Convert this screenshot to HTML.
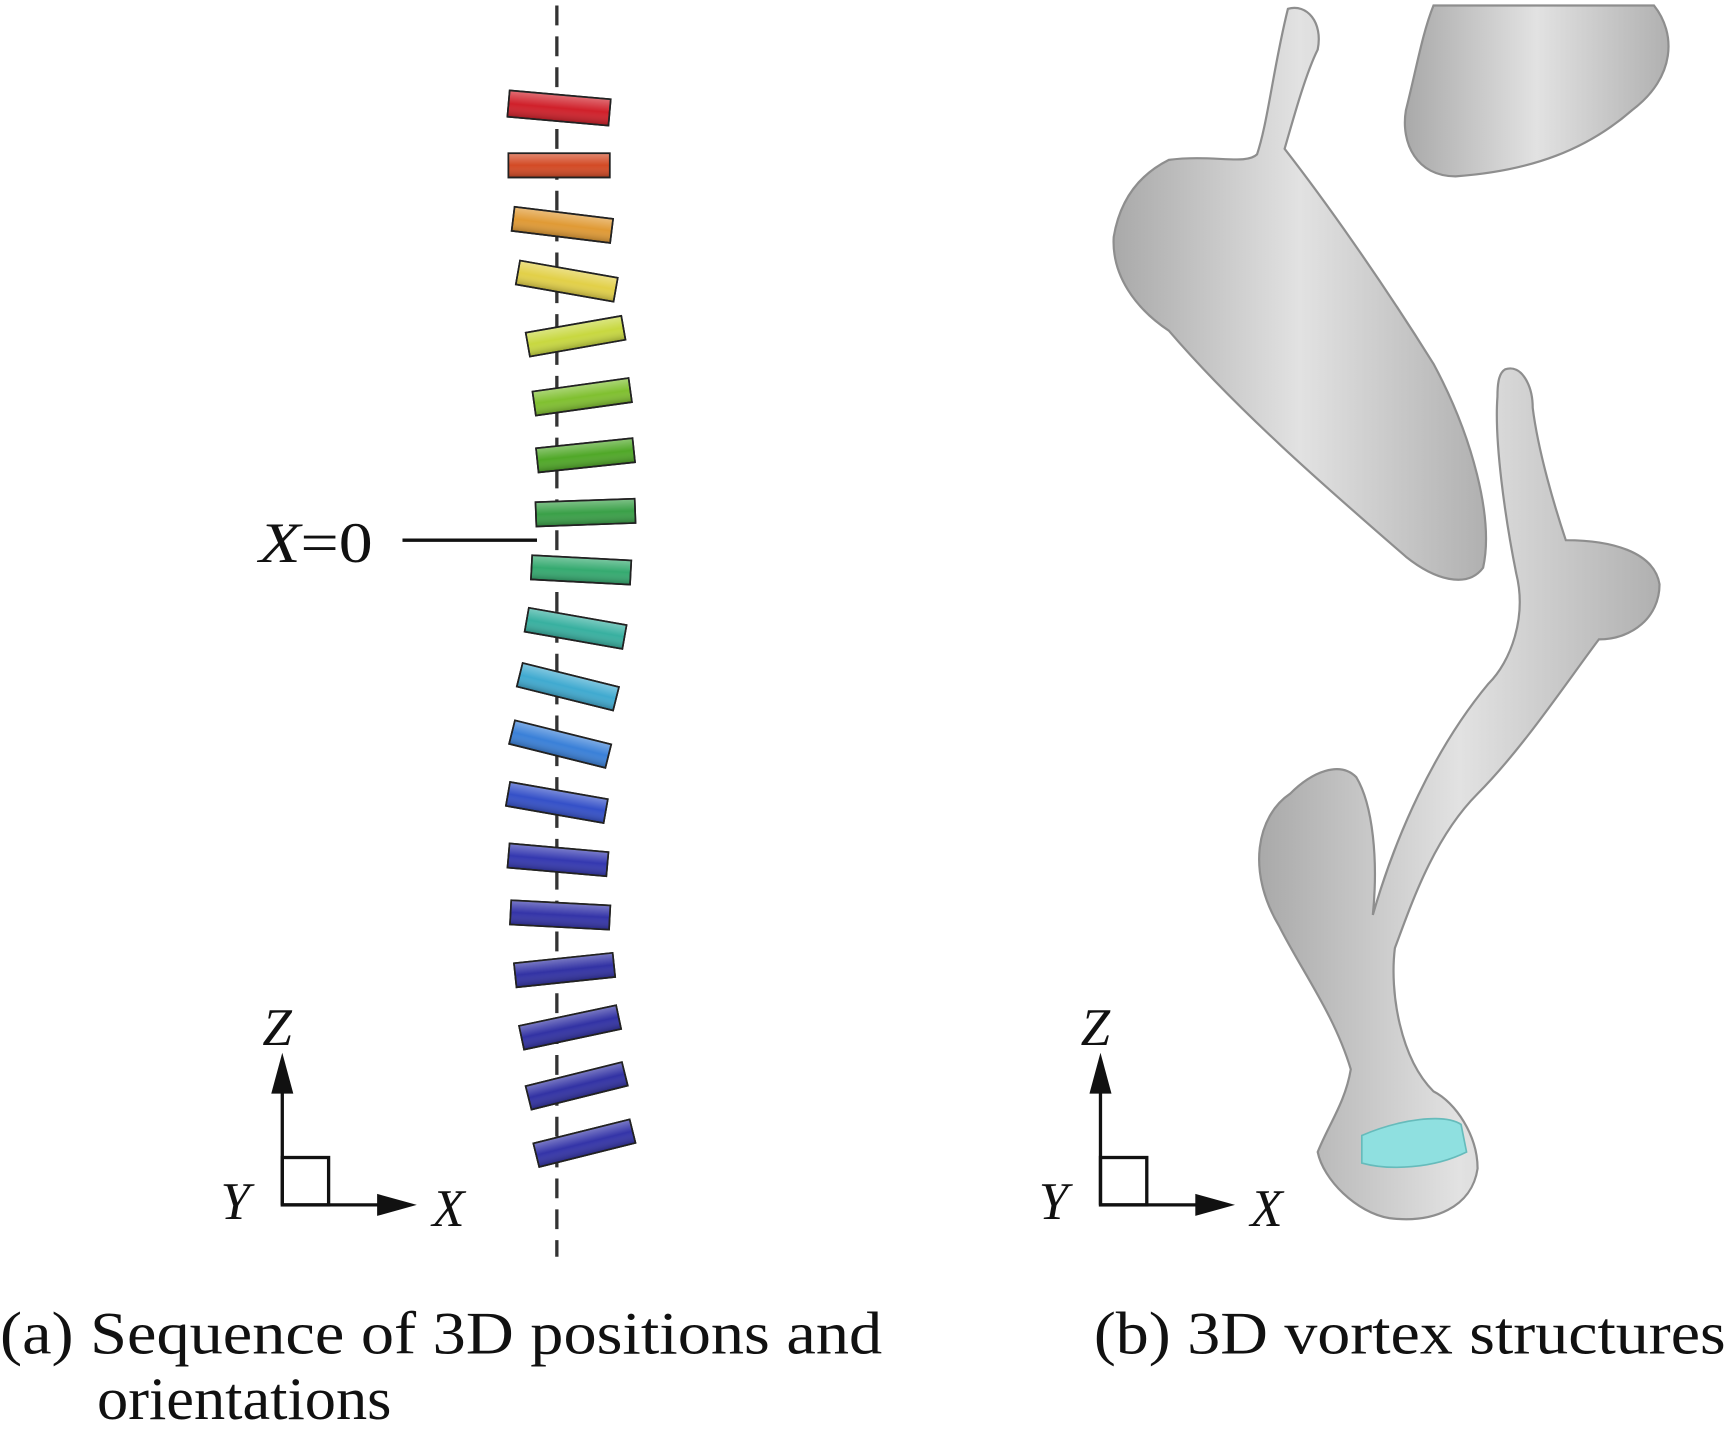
<!DOCTYPE html>
<html><head><meta charset="utf-8"><style>
html,body{margin:0;padding:0;background:#fff}
svg{display:block}
text{font-family:"Liberation Serif",serif;fill:#111}
</style></head><body>
<svg width="1729" height="1432" viewBox="0 0 1568 1299" preserveAspectRatio="none" xmlns="http://www.w3.org/2000/svg">
<defs>
<linearGradient id="sh" x1="0" y1="0" x2="0" y2="1">
<stop offset="0" stop-color="#fff" stop-opacity="0.35"/><stop offset="0.5" stop-color="#fff" stop-opacity="0"/><stop offset="1" stop-color="#000" stop-opacity="0.25"/>
</linearGradient>
<linearGradient id="gv" x1="0" y1="0" x2="1" y2="0">
<stop offset="0" stop-color="#a9a9a9"/><stop offset="0.5" stop-color="#e2e2e2"/><stop offset="1" stop-color="#b0b0b0"/>
</linearGradient>
</defs>
<line x1="505" y1="5" x2="505" y2="1140" stroke="#333" stroke-width="3" stroke-dasharray="18,10"/>
<g stroke="#222" stroke-width="1.5">
<g transform="translate(507,98) rotate(5)"><rect x="-46" y="-12" width="92" height="24" fill="#d0202a"/><rect x="-46" y="-12" width="92" height="24" fill="url(#sh)"/></g>
<g transform="translate(507,150) rotate(0)"><rect x="-46" y="-11" width="92" height="22" fill="#d34a25"/><rect x="-46" y="-11" width="92" height="22" fill="url(#sh)"/></g>
<g transform="translate(510,204) rotate(7)"><rect x="-45" y="-11" width="90" height="22" fill="#e09a35"/><rect x="-45" y="-11" width="90" height="22" fill="url(#sh)"/></g>
<g transform="translate(514,255) rotate(10)"><rect x="-45" y="-11" width="90" height="22" fill="#e2d048"/><rect x="-45" y="-11" width="90" height="22" fill="url(#sh)"/></g>
<g transform="translate(522,305) rotate(-10)"><rect x="-44" y="-11" width="88" height="22" fill="#c8d840"/><rect x="-44" y="-11" width="88" height="22" fill="url(#sh)"/></g>
<g transform="translate(528,360) rotate(-8)"><rect x="-44" y="-11" width="88" height="22" fill="#80c030"/><rect x="-44" y="-11" width="88" height="22" fill="url(#sh)"/></g>
<g transform="translate(531,413) rotate(-6)"><rect x="-44" y="-11" width="88" height="22" fill="#50a828"/><rect x="-44" y="-11" width="88" height="22" fill="url(#sh)"/></g>
<g transform="translate(531,465) rotate(-2)"><rect x="-45" y="-11" width="90" height="22" fill="#3aa048"/><rect x="-45" y="-11" width="90" height="22" fill="url(#sh)"/></g>
<g transform="translate(527,517) rotate(3)"><rect x="-45" y="-11" width="90" height="22" fill="#35aa70"/><rect x="-45" y="-11" width="90" height="22" fill="url(#sh)"/></g>
<g transform="translate(522,570) rotate(10)"><rect x="-45" y="-11" width="90" height="22" fill="#38b0a0"/><rect x="-45" y="-11" width="90" height="22" fill="url(#sh)"/></g>
<g transform="translate(515,623) rotate(14)"><rect x="-45" y="-11" width="90" height="22" fill="#40aad0"/><rect x="-45" y="-11" width="90" height="22" fill="url(#sh)"/></g>
<g transform="translate(508,675) rotate(14)"><rect x="-45" y="-11" width="90" height="22" fill="#3a80d8"/><rect x="-45" y="-11" width="90" height="22" fill="url(#sh)"/></g>
<g transform="translate(505,728) rotate(10)"><rect x="-45" y="-11" width="90" height="22" fill="#3450c8"/><rect x="-45" y="-11" width="90" height="22" fill="url(#sh)"/></g>
<g transform="translate(506,780) rotate(5)"><rect x="-45" y="-11" width="90" height="22" fill="#3438b0"/><rect x="-45" y="-11" width="90" height="22" fill="url(#sh)"/></g>
<g transform="translate(508,830) rotate(3)"><rect x="-45" y="-11" width="90" height="22" fill="#3434a8"/><rect x="-45" y="-11" width="90" height="22" fill="url(#sh)"/></g>
<g transform="translate(512,880) rotate(-6)"><rect x="-45" y="-11" width="90" height="22" fill="#3232a4"/><rect x="-45" y="-11" width="90" height="22" fill="url(#sh)"/></g>
<g transform="translate(517,932) rotate(-12)"><rect x="-45" y="-11" width="90" height="22" fill="#3232a4"/><rect x="-45" y="-11" width="90" height="22" fill="url(#sh)"/></g>
<g transform="translate(523,985) rotate(-14)"><rect x="-45" y="-11" width="90" height="22" fill="#3232a4"/><rect x="-45" y="-11" width="90" height="22" fill="url(#sh)"/></g>
<g transform="translate(530,1037) rotate(-14)"><rect x="-45" y="-11" width="90" height="22" fill="#3434a8"/><rect x="-45" y="-11" width="90" height="22" fill="url(#sh)"/></g>
</g>
<text x="235" y="510" font-size="52" textLength="103" lengthAdjust="spacingAndGlyphs"><tspan font-style="italic">X</tspan>=0</text>
<line x1="365" y1="490" x2="487" y2="490" stroke="#111" stroke-width="3"/>
<g stroke="#111" stroke-width="3" fill="none">
<line x1="256" y1="1093" x2="256" y2="975"/><line x1="256" y1="1093" x2="350" y2="1093"/>
<rect x="256" y="1050" width="42" height="43"/>
</g>
<polygon points="256,955 246,992 266,992" fill="#111"/>
<polygon points="378,1093 342,1083 342,1103" fill="#111"/>
<text x="238" y="948" font-size="48" font-style="italic">Z</text>
<text x="200" y="1106" font-size="48" font-style="italic">Y</text>
<text x="392" y="1112" font-size="48" font-style="italic">X</text>
<g stroke="#111" stroke-width="3" fill="none">
<line x1="998" y1="1093" x2="998" y2="975"/><line x1="998" y1="1093" x2="1092" y2="1093"/>
<rect x="998" y="1050" width="42" height="43"/>
</g>
<polygon points="998,955 988,992 1008,992" fill="#111"/>
<polygon points="1120,1093 1084,1083 1084,1103" fill="#111"/>
<text x="980" y="948" font-size="48" font-style="italic">Z</text>
<text x="942" y="1106" font-size="48" font-style="italic">Y</text>
<text x="1134" y="1112" font-size="48" font-style="italic">X</text>
<g fill="url(#gv)" stroke="#8e8e8e" stroke-width="2">
<path d="M1168,8 C1185,3 1200,20 1195,45 C1185,65 1175,100 1165,135 C1200,180 1250,250 1300,330 C1335,395 1355,470 1345,515 C1330,535 1300,525 1275,505 C1200,440 1120,370 1060,300 C1030,280 1008,250 1010,215 C1015,185 1030,160 1060,145 C1100,140 1130,150 1140,140 C1150,110 1155,60 1168,8 Z"/>
<path d="M1300,5 L1500,5 C1520,30 1520,70 1480,100 C1440,135 1390,155 1320,160 C1285,160 1270,130 1275,100 C1285,60 1290,30 1300,5 Z"/>
<path d="M1365,335 C1380,330 1390,350 1390,370 C1395,410 1410,460 1420,490 C1460,490 1500,500 1505,530 C1505,560 1480,580 1450,580 C1420,620 1380,680 1340,720 C1300,760 1280,820 1265,860 C1260,900 1270,960 1300,990 C1320,1000 1340,1030 1340,1060 C1335,1095 1300,1110 1260,1105 C1230,1100 1200,1070 1195,1045 C1205,1020 1220,1000 1225,970 C1210,920 1180,880 1160,840 C1130,790 1140,740 1170,720 C1190,700 1215,690 1230,705 C1245,730 1250,780 1245,830 C1265,760 1300,680 1350,620 C1370,600 1385,560 1375,520 C1365,470 1355,400 1358,360 C1358,345 1360,338 1365,335 Z"/>
</g>
<path d="M1235,1030 C1270,1015 1310,1010 1325,1020 L1330,1045 C1300,1060 1260,1062 1235,1055 Z" fill="#8fe0e0" stroke="#6bb" stroke-width="1.5"/>
<text x="0" y="1228" font-size="55" textLength="800" lengthAdjust="spacingAndGlyphs">(a) Sequence of 3D positions and</text>
<text x="88" y="1287" font-size="55" textLength="267" lengthAdjust="spacingAndGlyphs">orientations</text>
<text x="992" y="1228" font-size="55" textLength="573" lengthAdjust="spacingAndGlyphs">(b) 3D vortex structures</text>
</svg>
</body></html>
